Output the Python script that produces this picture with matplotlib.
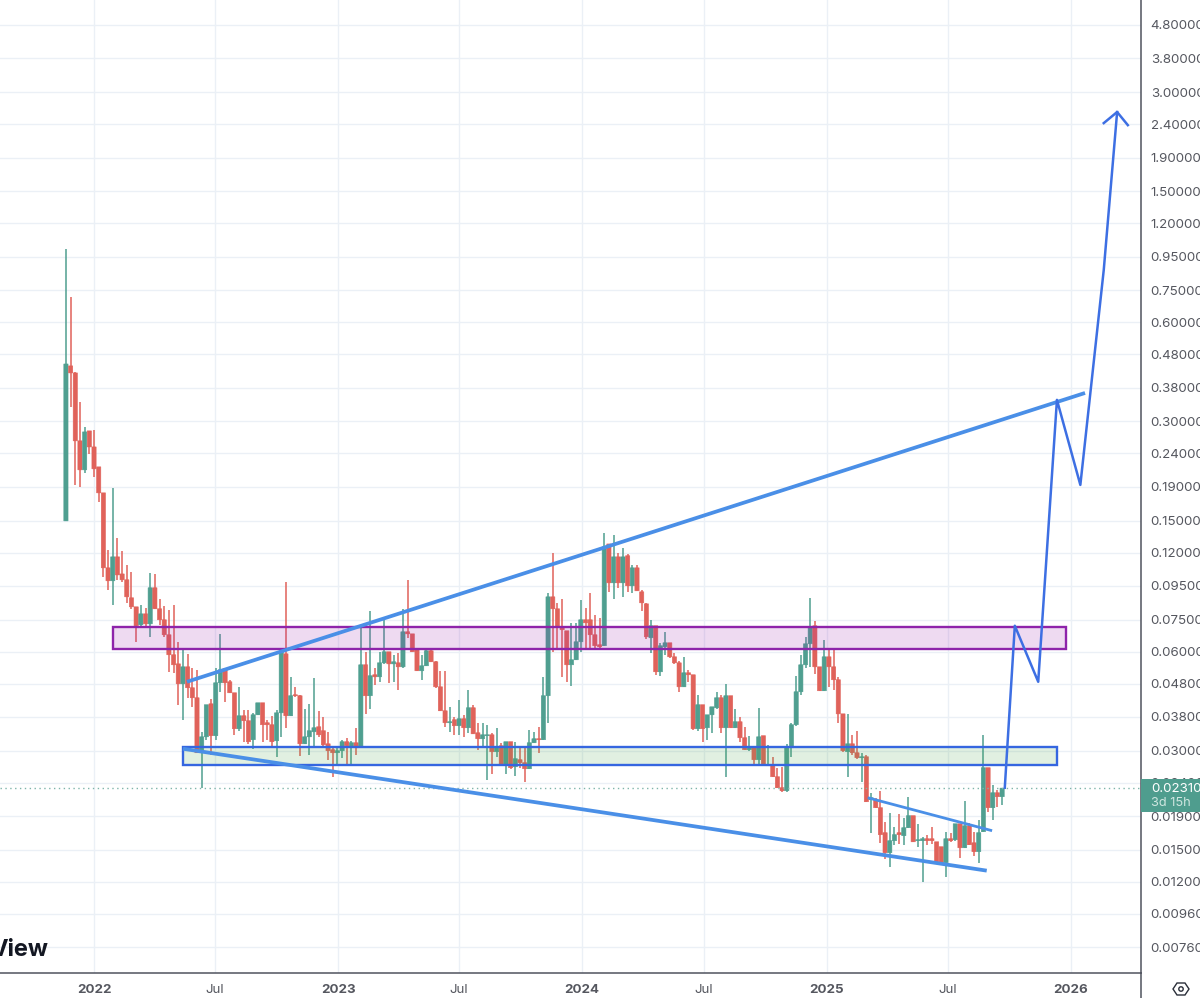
import matplotlib
matplotlib.use("Agg")
import matplotlib.pyplot as plt
import matplotlib.dates as mdates
import numpy as np
import pandas as pd
from matplotlib.lines import Line2D
from matplotlib.patches import Circle, Polygon, Rectangle
from matplotlib.ticker import NullLocator
from matplotlib.transforms import IdentityTransform

plt.rcParams["font.family"] = ["Inter", "DejaVu Sans"]

# ========== 1. Weekly candles ==========
opens = [
    .1497, .4425, .4213, .2620, .2139, .2809, .2511, .2184, .1821, .1078,
    .09846, .1164, .1033, .09915, .08742, .08207, .07238, .07814, .07286, .09376,
    .08095, .07496, .06750, .05869, .05508, .04790, .05395, .04660, .04345, .02958,
    .03307, .04165, .03332, .04825, .05321, .04859, .04499, .03499, .03831, .03700,
    .03240, .03857, .04195, .03648, .03598, .03217, .03911, .05908, .03831, .04437,
    .04407, .03149, .03307, .03425, .03547, .03450, .03149, .03021, .02958, .03000,
    .03195, .03084, .03172, .03084, .05472, .04407, .05103, .05031, .05548, .05993,
    .05508, .05548, .05395, .06892, .06794, .06078, .05248, .05434, .06036, .05588,
    .04691, .03967, .03648, .03726, .03573, .03752, .03523, .04052, .03401, .03262,
    .03332, .03354, .02979, .03106, .02720, .03195, .02682, .02817, .02759, .02645,
    .03172, .03262, .03240, .04407, .08801, .08095, .07136, .06941, .05472, .05667,
    .06427, .07496, .07496, .06750, .06294, .06251, .1274, .09707, .1164, .09707,
    .1173, .09508, .1078, .09115, .08380, .06609, .07189, .05211, .06205, .06382,
    .05786, .05548, .04691, .05174, .05103, .03499, .04138, .03523, .03857, .04052,
    .04345, .03523, .04407, .03523, .03674, .03285, .03021, .03084, .02817, .03332,
    .02701, .02720, .02501, .02316, .02268, .03063, .03598, .04531, .05472, .06337,
    .07189, .05395, .04563, .05786, .05395, .04928, .03883, .02979, .03149, .02958,
    .02856, .02876, .02130, .02130, .02014, .01691, .01470, .01599, .01691, .01656,
    .01751, .01905, .01599, .01599, .01621, .01621, .01587, .01533, .01371, .01621,
    .01610, .01800, .01522, .01775, .01576, .01481, .01703, .02664, .02014, .02236,
    .02175,
]
highs = [
    1.002, .7165, .4243, .3440, .2888, .2809, .2829, .2184, .1821, .1223,
    .1886, .1330, .1214, .1101, .1048, .08207, .08324, .08152, .1041, .1033,
    .08681, .08268, .08039, .08324, .06427, .06163, .05908, .05359, .05285, .03425,
    .04138, .04315, .05359, .06794, .05321, .04928, .04499, .04691, .03995, .03995,
    .03911, .04195, .04195, .03726, .03831, .03995, .05993, .09776, .05031, .04691,
    .04437, .04024, .04165, .04997, .03967, .03803, .03425, .03084, .03084, .03240,
    .03285, .03217, .03523, .07238, .05993, .07983, .05359, .05993, .07496, .05993,
    .05869, .05950, .08095, .09915, .06794, .06163, .05869, .06078, .06078, .05627,
    .05248, .05248, .04079, .03803, .04285, .03857, .04595, .04138, .03648, .03648,
    .03598, .03401, .03523, .03172, .03195, .03195, .03195, .03084, .03084, .03474,
    .03425, .03547, .05031, .09051, .1197, .08440, .08681, .06941, .07339, .07339,
    .08621, .08152, .09051, .07762, .07603, .1376, .1274, .1358, .1197, .1240,
    .1188, .1101, .1101, .09245, .08440, .07496, .07189, .06382, .06892, .06382,
    .05950, .05627, .05786, .05285, .05103, .04437, .04138, .03857, .04079, .04531,
    .04437, .04790, .04407, .04024, .03803, .03547, .03332, .03084, .04052, .03332,
    .03128, .02876, .02664, .02682, .03149, .03648, .05068, .05869, .06654, .08742,
    .07444, .05395, .06518, .06120, .06120, .05031, .03883, .03883, .03354, .03450,
    .02958, .02917, .02236, .02160, .02268, .01826, .01945, .01763, .01930, .01878,
    .02175, .01905, .01800, .01645, .01668, .01763, .01587, .01533, .01703, .01691,
    .01800, .01800, .02115, .01813, .01703, .01852, .03354, .02664, .02366, .02284,
    .02310,
]
lows = [
    .1497, .3322, .1925, .1898, .2094, .2391, .2036, .1710, .1012, .09245,
    .08324, .09915, .09776, .08440, .08095, .06427, .07136, .07136, .06654, .08095,
    .07238, .06654, .05211, .05174, .04138, .03726, .04345, .04079, .02958, .02316,
    .03240, .02917, .03240, .04531, .04225, .04499, .03354, .03450, .03195, .03149,
    .03042, .03857, .03195, .03240, .03084, .02876, .03307, .03523, .03831, .04375,
    .02897, .03149, .02917, .03063, .03307, .03084, .02817, .02501, .02738, .02856,
    .02701, .02738, .02917, .03084, .03883, .04024, .04758, .04859, .05508, .04825,
    .04859, .04595, .05359, .06609, .05993, .05248, .04928, .05434, .05588, .04660,
    .03967, .03547, .03425, .03354, .03354, .03307, .03401, .03377, .03021, .03063,
    .02449, .02554, .02876, .02720, .02554, .02645, .02519, .02664, .02415, .02645,
    .03172, .02958, .03240, .03648, .05993, .06078, .05031, .04859, .04726, .05667,
    .05993, .06078, .06078, .06078, .06078, .06251, .09115, .08681, .09376, .08801,
    .09115, .09051, .09180, .07983, .06564, .05950, .05103, .05068, .05869, .05746,
    .05508, .04531, .04691, .04859, .03474, .03450, .03195, .03240, .03401, .04024,
    .03401, .02501, .03523, .03523, .03195, .03021, .03000, .02738, .02720, .02720,
    .02701, .02501, .02316, .02252, .02252, .02876, .03573, .04437, .05359, .05395,
    .05137, .04563, .04563, .04691, .04595, .03648, .02979, .02501, .02917, .02837,
    .02415, .02100, .01691, .02014, .01576, .01410, .01333, .01555, .01565, .01555,
    .01751, .01587, .01533, .01201, .01555, .01565, .01371, .01371, .01243, .01587,
    .01599, .01420, .01522, .01555, .01440, .01371, .01703, .01958, .01852, .02028,
    .02056,
]
closes = [
    .4485, .4213, .2620, .2139, .2789, .2511, .2154, .1821, .1078, .09846,
    .1164, .1026, .09915, .08801, .08207, .07189, .07814, .07286, .09376, .08095,
    .07496, .06750, .05869, .05472, .04790, .05395, .04660, .04345, .02958, .03307,
    .04138, .03332, .04825, .05285, .04825, .04499, .03499, .03831, .03700, .03195,
    .03857, .04195, .03598, .03598, .03195, .03911, .05993, .03831, .04407, .04407,
    .03149, .03307, .03450, .03523, .03354, .03128, .03000, .02958, .03000, .03195,
    .03106, .03172, .03063, .05472, .04407, .05068, .05031, .05548, .05993, .05508,
    .05588, .05395, .06892, .06794, .05993, .05248, .05434, .06036, .05588, .04691,
    .03967, .03648, .03674, .03573, .03752, .03523, .04052, .03377, .03262, .03354,
    .03354, .02979, .03084, .02720, .03195, .02664, .02837, .02759, .02645, .03172,
    .03262, .03240, .04407, .08801, .08095, .07136, .06990, .05472, .05667, .06427,
    .07496, .07339, .06750, .06251, .06205, .1249, .09707, .1164, .09707, .1164,
    .09508, .1078, .09180, .08440, .06654, .07189, .05211, .06251, .06382, .05786,
    .05548, .04691, .05174, .05103, .03499, .04138, .03499, .03857, .04079, .04345,
    .03523, .04407, .03523, .03674, .03285, .03021, .03063, .02817, .03307, .02720,
    .02720, .02501, .02316, .02268, .03063, .03598, .04531, .05472, .06337, .07136,
    .05395, .04563, .05786, .05395, .04928, .03883, .03000, .03149, .02958, .02857,
    .02876, .02100, .02160, .02014, .01668, .01470, .01599, .01668, .01668, .01751,
    .01905, .01587, .01610, .01621, .01599, .01599, .01371, .01371, .01621, .01599,
    .01800, .01522, .01775, .01555, .01481, .01691, .02664, .02014, .02236, .02175,
    .02310,
]
first_week = "2021-11-22"
last_price = 0.0231

# ========== 2. Axis labels ==========
price_ticks = [4.8, 3.8, 3.0, 2.4, 1.9, 1.5, 1.2, 0.95, 0.75, 0.6, 0.48, 0.38, 0.30, 0.24,
               0.19, 0.15, 0.12, 0.095, 0.075, 0.06, 0.048, 0.038, 0.03, 0.024, 0.019,
               0.015, 0.012, 0.0096, 0.0076]
time_ticks = ["2022-01-03", "2022-07-03", "2023-01-03", "2023-07-03", "2024-01-03",
              "2024-07-03", "2025-01-03", "2025-07-03", "2026-01-03"]
time_labels = ["2022", "Jul", "2023", "Jul", "2024", "Jul", "2025", "Jul", "2026"]

# ========== 3. Hand drawn trend lines and zones ==========
upper_dates = ["2022-05-22", "2026-01-24"]
upper_prices = [.04859, .3662]
lower_dates = ["2022-05-16", "2025-08-30"]
lower_prices = [.03042, .01297]
wedge_dates = ["2025-03-05", "2025-09-07"]
wedge_prices = [.02160, .01715]
path_dates = ["2025-09-26", "2025-10-11", "2025-11-15", "2025-12-13", "2026-01-17", "2026-02-21", "2026-03-13"]
path_prices = [.02316, .07189, .04859, .3489, .1925, .8655, 2.612]
head_dates = ["2026-02-21", "2026-03-13", "2026-03-29"]
head_prices = [2.417, 2.612, 2.383]
purple_zone = ["2022-01-31", "2025-12-27", .06120, .07136]
green_zone = ["2022-05-16", "2025-12-13", .02720, .03074]

UP = "#4f9f90"
DOWN = "#e0625a"
GRID = "#ebf0f6"
AXIS = "#50535e"
LABEL = "#55575f"
TEAL = "#4f9d8e"
LINE = "#4a8fe7"
PATH = "#3d6fe3"


def to_num(dates):
    return mdates.date2num(pd.to_datetime(dates))


# ========== 4. Figure ==========
fig = plt.figure(figsize=(12, 9.98), dpi=100)
ax = fig.add_axes([0, 25 / 998, 1141 / 1200, 973 / 998])
ax.set_yscale("log")

base = mdates.date2num(pd.Timestamp("2022-01-03"))
ax.set_xlim(base - 140.6, base + 1565.7)
ax.set_ylim(0.00634, 5.717)

ax.grid(True, color=GRID, linewidth=1.0, zorder=0)
ax.set_axisbelow(True)

# ========== 5. Candles ==========
weeks = mdates.date2num(pd.date_range(first_week, periods=len(opens), freq="7D"))
o = np.array(opens)
h = np.array(highs)
l = np.array(lows)
c = np.array(closes)
colors = [UP if ci >= oi else DOWN for oi, ci in zip(o, c)]

ax.vlines(weeks, l, h, colors=colors, linewidth=1.1, zorder=3)
bars = ax.bar(weeks, np.abs(c - o), bottom=np.minimum(o, c), width=6.3, color=colors,
              edgecolor=colors, linewidth=0.4, zorder=3)
# no pixel snapping, otherwise neighbouring bodies get uneven gaps
for bar in bars:
    bar.set_snap(False)

ax.axhline(last_price, color="#7fb5aa", linewidth=1.0, linestyle=(0, (1, 2.5)), zorder=3)

# ========== 6. Zones and lines on top ==========
x0, x1 = to_num(purple_zone[:2])
ax.add_patch(Rectangle((x0, purple_zone[2]), x1 - x0, purple_zone[3] - purple_zone[2],
                       facecolor=(0.61, 0.15, 0.69, 0.17), edgecolor="#8e24aa", linewidth=1.7, zorder=4))
x0, x1 = to_num(green_zone[:2])
ax.add_patch(Rectangle((x0, green_zone[2]), x1 - x0, green_zone[3] - green_zone[2],
                       facecolor=(0.30, 0.65, 0.31, 0.17), edgecolor="#3566e0", linewidth=1.7, zorder=4))

ax.plot(to_num(upper_dates), upper_prices, color=LINE, linewidth=2.7, solid_capstyle="butt", zorder=5)
ax.plot(to_num(lower_dates), lower_prices, color=LINE, linewidth=2.7, solid_capstyle="butt", zorder=5)
ax.plot(to_num(wedge_dates), wedge_prices, color=LINE, linewidth=2.0, solid_capstyle="butt", zorder=5)
ax.plot(to_num(path_dates), path_prices, color=PATH, linewidth=1.8, zorder=5)
ax.plot(to_num(head_dates), head_prices, color=PATH, linewidth=1.8, zorder=5)

# ========== 7. Axes and labels ==========
for name in ["top", "left"]:
    ax.spines[name].set_visible(False)
for name in ["bottom", "right"]:
    ax.spines[name].set_color(AXIS)
    ax.spines[name].set_linewidth(1.1)

ax.yaxis.tick_right()
ax.set_yticks(price_ticks)
ax.set_yticklabels([f"{p:.5f}" for p in price_ticks], ha="left", fontsize=9.6, color=LABEL)
ax.yaxis.set_minor_locator(NullLocator())
ax.tick_params(axis="y", length=0, pad=7)

ax.set_xticks(to_num(time_ticks))
ax.set_xticklabels(time_labels, fontsize=9.6, color=LABEL)
for tick_label in ax.get_xticklabels():
    if tick_label.get_text() != "Jul":
        tick_label.set_fontweight("bold")
ax.xaxis.set_minor_locator(NullLocator())
ax.tick_params(axis="x", length=0, pad=8)

# vertical rule keeps going below the price scale
fig.add_artist(Line2D([1141, 1141], [0, 25], color=AXIS, linewidth=1.1, transform=IdentityTransform()))

# current price tag
fig.add_artist(Rectangle((1141, 998 - 812), 59, 33, facecolor=TEAL, edgecolor="none",
                         transform=IdentityTransform(), zorder=6))
fig.text(1151 / 1200, 1 - 789 / 998, "0.02310", color="white", fontsize=9.6, va="center", zorder=7)
fig.text(1151 / 1200, 1 - 803 / 998, "3d 15h", color="#cfe6e0", fontsize=9.2, va="center", zorder=7)

# settings icon
hex_points = [(1173, 9), (1177, 15), (1185, 15), (1189, 9), (1185, 3), (1177, 3)]
fig.add_artist(Polygon(hex_points, closed=True, fill=False, edgecolor="#2a2e39", linewidth=1.0,
                       transform=IdentityTransform()))
fig.add_artist(Circle((1181, 9), 2.2, fill=False, edgecolor="#2a2e39", linewidth=1.0,
                      transform=IdentityTransform()))

fig.text(48 / 1200, 1 - 950 / 998, "View", color="#131722", fontsize=17, fontweight="bold",
         ha="right", va="center")

fig.savefig("out.png", dpi=100)
